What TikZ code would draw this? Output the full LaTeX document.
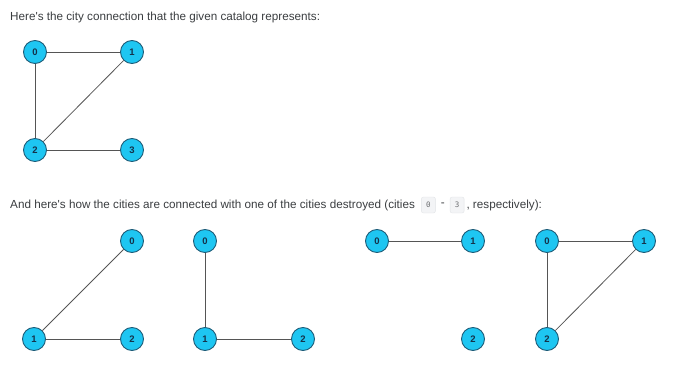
\documentclass[tikz,border=0pt]{standalone}
\usepackage{fontspec}
\setmainfont[Ligatures=TeXOff]{Liberation Sans}
\newfontfamily\codefont{DejaVu Sans Mono}
\definecolor{txt}{HTML}{3A3D40}
\definecolor{nodefill}{HTML}{1EC6F2}
\definecolor{nodeline}{HTML}{1D5C78}
\definecolor{nodetxt}{HTML}{14324A}
\definecolor{edgecol}{HTML}{555555}
\definecolor{codebg}{HTML}{F3F4F6}
\definecolor{codeline}{HTML}{E1E3E6}
\tikzset{
  city/.style={circle, draw=nodeline, fill=nodefill, line width=0.9pt, minimum size=23pt, inner sep=0pt, text=nodetxt, font=\fontsize{9.5}{10}\selectfont\bfseries},
  road/.style={draw=edgecol, line width=0.8pt},
  para/.style={anchor=west, inner sep=0pt, text=txt, font=\fontsize{11.7}{14}\selectfont},
  codebox/.style={draw=codeline, fill=codebg, rounded corners=2pt, inner sep=0pt, minimum width=14pt, minimum height=16pt, text=txt!75, font=\codefont\fontsize{7.5}{8}\selectfont}
}
\begin{document}
\begin{tikzpicture}[x=1pt,y=-1pt]
\useasboundingbox (0,0) rectangle (680,385);
\node[para] (t1) at (10,17) {Here's the city connection that the given catalog represents:};
% top graph
\node[city] (a0) at (35,52) {0};
\node[city] (a1) at (132,52) {1};
\node[city] (a2) at (35,150) {2};
\node[city] (a3) at (132,150) {3};
\draw[road] (a0) -- (a1);
\draw[road] (a0) -- (a2);
\draw[road] (a1) -- (a2);
\draw[road] (a2) -- (a3);
% second text
\node[para] (t2) at (10,205) {And here's how the cities are connected with one of the cities destroyed (cities};
\node[codebox, anchor=west] (c0) at ([xshift=6pt]t2.east) {0};
\node[para] (dash) at ([xshift=5pt]c0.east) {-};
\node[codebox, anchor=west] (c3) at ([xshift=5pt]dash.east) {3};
\node[para] (t3) at ([xshift=2pt]c3.east) {, respectively):};
% graph b (city 0 destroyed)
\node[city] (b0) at (132,241) {0};
\node[city] (b1) at (34,339) {1};
\node[city] (b2) at (132,339) {2};
\draw[road] (b0) -- (b1);
\draw[road] (b1) -- (b2);
% graph c (city 1 destroyed)
\node[city] (c0n) at (205,241) {0};
\node[city] (c1n) at (205,339) {1};
\node[city] (c2n) at (303,339) {2};
\draw[road] (c0n) -- (c1n);
\draw[road] (c1n) -- (c2n);
% graph d (city 2 destroyed)
\node[city] (d0) at (377,241) {0};
\node[city] (d1) at (473,241) {1};
\node[city] (d2) at (473,339) {2};
\draw[road] (d0) -- (d1);
% graph e (city 3 destroyed)
\node[city] (e0) at (547,241) {0};
\node[city] (e1) at (644,241) {1};
\node[city] (e2) at (547,339) {2};
\draw[road] (e0) -- (e1);
\draw[road] (e0) -- (e2);
\draw[road] (e1) -- (e2);
\end{tikzpicture}
\end{document}
